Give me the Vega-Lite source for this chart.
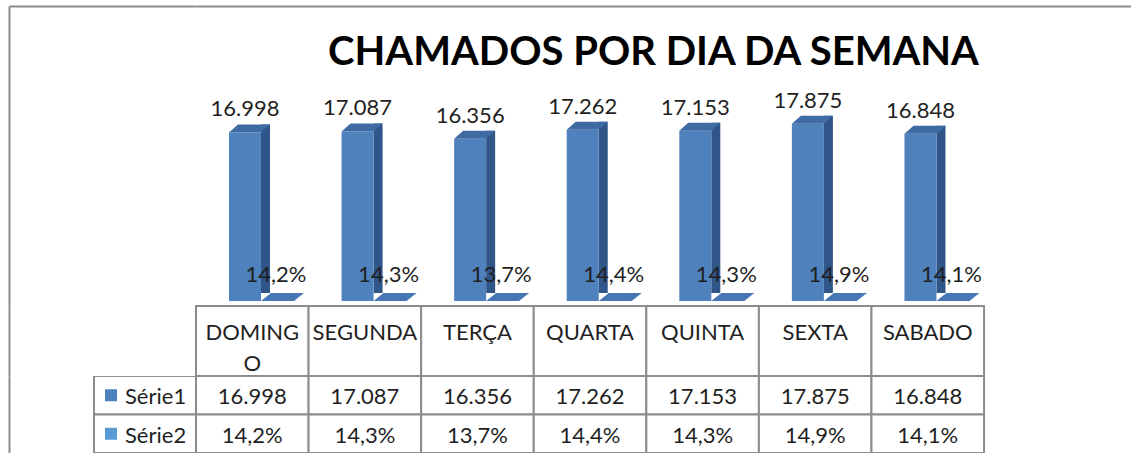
{
  "$schema": "https://vega.github.io/schema/vega-lite/v6.json",
  "padding": {"left": 6, "top": 6, "right": 0, "bottom": 0},
  "background": "white",
  "config": {
    "view": {"stroke": null},
    "locale": {"number": {"decimal": ",", "thousands": ".", "grouping": [3], "currency": ["R$", ""]}},
    "text": {"font": "Lato", "fontSize": 22, "color": "#1f1f1f"}
  },
  "datasets": {
    "dias": [
      {"dia": "DOMINGO", "rotulo": "DOMING\nO", "s1": 16998, "s2": 0.142},
      {"dia": "SEGUNDA", "rotulo": "SEGUNDA", "s1": 17087, "s2": 0.143},
      {"dia": "TERÇA", "rotulo": "TERÇA", "s1": 16356, "s2": 0.137},
      {"dia": "QUARTA", "rotulo": "QUARTA", "s1": 17262, "s2": 0.144},
      {"dia": "QUINTA", "rotulo": "QUINTA", "s1": 17153, "s2": 0.143},
      {"dia": "SEXTA", "rotulo": "SEXTA", "s1": 17875, "s2": 0.149},
      {"dia": "SABADO", "rotulo": "SABADO", "s1": 16848, "s2": 0.141}
    ],
    "series": [{"serie": "Série1"}, {"serie": "Série2"}]
  },
  "columns": 2,
  "spacing": 0,
  "bounds": "flush",
  "align": "each",
  "concat": [
    {
      "width": 187, "height": 300,
      "data": {"values": [{}]},
      "mark": {"type": "point", "opacity": 0},
      "encoding": {
        "x": {"datum": 0, "type": "quantitative", "scale": {"domain": [0, 1]}, "axis": {"orient": "top", "domain": true, "domainColor": "#8c8c8c", "domainWidth": 2, "labels": false, "ticks": false, "grid": false, "title": null}},
        "y": {"datum": 0, "type": "quantitative", "scale": {"domain": [0, 1]}, "axis": {"orient": "left", "domain": true, "domainColor": "#8c8c8c", "domainWidth": 2, "labels": false, "ticks": false, "grid": false, "title": null}}
      }
    },
    {
      "width": 937, "height": 300,
      "data": {"name": "dias"},
      "title": {"text": "CHAMADOS POR DIA DA SEMANA", "font": "Lato", "fontSize": 40, "fontWeight": "bold", "color": "#000000", "anchor": "middle", "frame": "group", "orient": "top", "offset": -58, "baseline": "alphabetic", "dx": -11, "dy": 41},
      "encoding": {
        "x": {"field": "dia", "type": "nominal", "sort": null,
              "scale": {"domain": ["DOMINGO", "SEGUNDA", "TERÇA", "QUARTA", "QUINTA", "SEXTA", "SABADO"], "paddingInner": 0, "paddingOuter": 0.6615, "align": 0},
              "axis": {"orient": "top", "domain": true, "domainColor": "#8c8c8c", "domainWidth": 2, "labels": false, "ticks": false, "grid": false, "title": null}},
        "y": {"field": "s1", "type": "quantitative", "scale": {"domain": [-504, 29738], "nice": false, "zero": false}, "axis": null}
      },
      "layer": [
        {
          "data": {"values": [{}]},
          "mark": {"type": "point", "shape": "M-56.3,5 L-27.3,-15 L759.7,-15 L731.7,5", "size": 4, "filled": false, "stroke": "#8c8c8c", "strokeWidth": 2, "opacity": 1},
          "encoding": {"x": {"datum": "DOMINGO"}, "y": {"datum": 0, "type": "quantitative"}}
        },
        {
          "mark": {"type": "point", "shape": "M8.7,0 L41.7,0 L51.7,-8 L18.7,-8 Z", "size": 4, "filled": true, "color": "#4677b4", "opacity": 1},
          "encoding": {"y": {"field": "s2", "type": "quantitative"}}
        },
        {"mark": {"type": "bar", "width": 9, "xOffset": 13.2, "yOffset": -8, "color": "#2f5589"}},
        {"mark": {"type": "bar", "width": 32, "xOffset": -7.3, "color": "#4F81BD"}},
        {"mark": {"type": "point", "shape": "M-23.3,0 L8.7,0 L17.7,-8 L-14.3,-8 Z", "size": 4, "filled": true, "color": "#3e6ba3", "opacity": 1}},
        {
          "mark": {"type": "text", "dx": -7.3, "dy": -16, "baseline": "alphabetic"},
          "encoding": {"text": {"field": "s1", "type": "quantitative", "format": ","}}
        },
        {
          "mark": {"type": "text", "dx": 23.7, "dy": -19, "baseline": "alphabetic"},
          "encoding": {"y": {"field": "s2", "type": "quantitative"}, "text": {"field": "s2", "type": "quantitative", "format": ".1%"}}
        }
      ]
    },
    {
      "width": 187, "height": 70,
      "data": {"values": [{}]},
      "mark": {"type": "point", "opacity": 0},
      "encoding": {
        "y": {"datum": 0, "type": "quantitative", "scale": {"domain": [0, 1]}, "axis": {"orient": "left", "domain": true, "domainColor": "#8c8c8c", "domainWidth": 2, "labels": false, "ticks": false, "grid": false, "title": null}}
      }
    },
    {
      "width": 937, "height": 70,
      "data": {"name": "dias"},
      "encoding": {
        "x": {"field": "dia", "type": "nominal", "sort": null,
              "scale": {"domain": ["DOMINGO", "SEGUNDA", "TERÇA", "QUARTA", "QUINTA", "SEXTA", "SABADO"], "paddingInner": 0, "paddingOuter": 0.6615, "align": 0},
              "axis": null}
      },
      "layer": [
        {"mark": {"type": "rect", "fill": "white", "stroke": "#8c8c8c", "strokeWidth": 2}},
        {
          "mark": {"type": "text", "lineBreak": "\n", "baseline": "alphabetic", "dy": -1, "lineHeight": 31},
          "encoding": {"text": {"field": "rotulo", "type": "nominal"}}
        }
      ]
    },
    {
      "width": 187, "height": 77,
      "data": {"name": "series"},
      "encoding": {
        "y": {"field": "serie", "type": "nominal", "sort": null, "scale": {"paddingInner": 0, "paddingOuter": 0},
              "axis": {"orient": "left", "domain": true, "domainColor": "#8c8c8c", "domainWidth": 2, "labels": false, "ticks": false, "grid": false, "title": null}}
      },
      "layer": [
        {
          "mark": {"type": "rect", "fill": "white", "stroke": "#8c8c8c", "strokeWidth": 2, "y2Offset": 4, "clip": true},
          "encoding": {"x": {"datum": "leg", "type": "nominal", "scale": {"domain": ["leg"], "paddingInner": 0, "paddingOuter": 0.4167, "align": 1}, "axis": null}}
        },
        {
          "mark": {"type": "point", "shape": "square", "size": 144, "filled": true, "opacity": 1, "xOffset": -34},
          "encoding": {"x": {"datum": "leg", "type": "nominal"}, "color": {"field": "serie", "type": "nominal", "scale": {"range": ["#4F81BD", "#5B9BD5"]}, "legend": null}}
        },
        {
          "mark": {"type": "text", "align": "left", "dx": -20, "dy": 2, "baseline": "middle"},
          "encoding": {"x": {"datum": "leg", "type": "nominal"}, "text": {"field": "serie", "type": "nominal"}}
        }
      ]
    },
    {
      "width": 937, "height": 77,
      "data": {"name": "dias"},
      "encoding": {
        "x": {"field": "dia", "type": "nominal", "sort": null,
              "scale": {"domain": ["DOMINGO", "SEGUNDA", "TERÇA", "QUARTA", "QUINTA", "SEXTA", "SABADO"], "paddingInner": 0, "paddingOuter": 0.6615, "align": 0},
              "axis": null}
      },
      "layer": [
        {
          "mark": {"type": "rect", "fill": "white", "stroke": "#8c8c8c", "strokeWidth": 2},
          "encoding": {"y": {"datum": "Série1", "type": "nominal", "scale": {"domain": ["Série1", "Série2"], "paddingInner": 0, "paddingOuter": 0}, "axis": null}}
        },
        {
          "mark": {"type": "rect", "fill": "white", "stroke": "#8c8c8c", "strokeWidth": 2, "y2Offset": 4, "clip": true},
          "encoding": {"y": {"datum": "Série2", "type": "nominal"}}
        },
        {
          "mark": {"type": "text", "dy": 2, "baseline": "middle"},
          "encoding": {"y": {"datum": "Série1", "type": "nominal"}, "text": {"field": "s1", "type": "quantitative", "format": ","}}
        },
        {
          "mark": {"type": "text", "dy": 2, "baseline": "middle"},
          "encoding": {"y": {"datum": "Série2", "type": "nominal"}, "text": {"field": "s2", "type": "quantitative", "format": ".1%"}}
        }
      ]
    }
  ]
}
